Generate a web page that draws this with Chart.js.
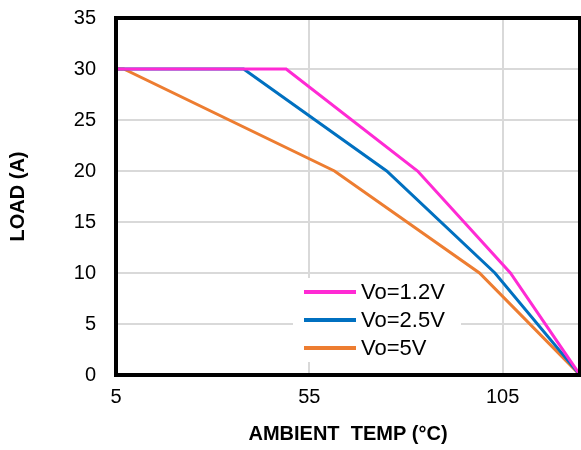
<!DOCTYPE html>
<html>
<head>
<meta charset="utf-8">
<script src="https://cdn.jsdelivr.net/npm/chart.js@4/dist/chart.umd.min.js"></script>
<style>
  body { margin: 0; background: #fff; }
  #wrap { width: 581px; height: 450px; }
</style>
</head>
<body>
<div id="wrap"><canvas id="derating" width="581" height="450"></canvas></div>
<script>
// derating curves, temp (C) vs load (A)
const temp12 = [5, 49, 83, 107, 125];
const load12 = [30, 30, 20, 10, 0];
const temp25 = [5, 38, 75, 103, 125];
const load25 = [30, 30, 20, 10, 0];
const temp50 = [5, 7, 61.5, 99, 125];
const load50 = [30, 30, 20, 10, 0];
const seriesNames = ["Vo=1.2V", "Vo=2.5V", "Vo=5V"];
const xTicks = [5, 55, 105];
const yTicks = [0, 5, 10, 15, 20, 25, 30, 35];

const colors = ["#FF2AD4", "#0070C0", "#ED7D31"];
const FONT = "Arial, 'Liberation Sans', sans-serif";

function pts(xs, ys) {
    return xs.map((x, i) => ({ x: x, y: ys[i] }));
}

const plotFrame = {
    id: "plotFrame",
    afterDatasetsDraw(chart) {
        const a = chart.chartArea;
        const c = chart.ctx;
        c.save();
        // legend box inside plot
        const lx = 293, ly = 278, lw = 168, lh = 84;
        c.fillStyle = "#fff";
        c.fillRect(lx, ly, lw, lh);
        c.font = "22px " + FONT;
        c.textBaseline = "middle";
        chart.data.datasets.forEach((ds, i) => {
            const y = 292 + i * 28;
            c.strokeStyle = ds.borderColor;
            c.lineWidth = 4;
            c.beginPath();
            c.moveTo(304, y);
            c.lineTo(356, y);
            c.stroke();
            c.fillStyle = "#000";
            c.fillText(ds.label, 361, y + 1);
        });
        // thick frame
        c.strokeStyle = "#000";
        c.lineWidth = 4;
        c.strokeRect(a.left, a.top, a.right - a.left, a.bottom - a.top);
        c.restore();
    }
};

new Chart(document.getElementById("derating"), {
    type: "line",
    data: {
        datasets: [
            { label: seriesNames[0], data: pts(temp12, load12) },
            { label: seriesNames[1], data: pts(temp25, load25) },
            { label: seriesNames[2], data: pts(temp50, load50) }
        ].map((d, i) => Object.assign(d, {
            borderColor: colors[i],
            backgroundColor: colors[i],
            borderWidth: 3,
            pointRadius: 0,
            tension: 0,
            fill: false
        }))
    },
    options: {
        responsive: false,
        animation: false,
        layout: { padding: { top: 18, right: 1, left: 0, bottom: 0 } },
        plugins: {
            legend: { display: false },
            tooltip: { enabled: false }
        },
        scales: {
            x: {
                type: "linear",
                min: 5,
                max: 125,
                afterBuildTicks: (s) => { s.ticks = xTicks.map(v => ({ value: v })); },
                afterFit: (s) => { s.height = 75; s.paddingLeft = 0; s.paddingRight = 0; },
                grid: { color: "#d9d9d9", lineWidth: 2, drawTicks: false },
                border: { display: false },
                ticks: { color: "#000", padding: 10, maxRotation: 0, font: { family: FONT, size: 20 } },
                title: {
                    display: true,
                    text: "AMBIENT  TEMP (\u00b0C)",
                    color: "#000",
                    padding: { top: 4 },
                    font: { family: FONT, size: 20, weight: "bold" }
                }
            },
            y: {
                type: "linear",
                min: 0,
                max: 35,
                afterBuildTicks: (s) => { s.ticks = yTicks.map(v => ({ value: v })); },
                afterFit: (s) => { s.width = 116; s.paddingTop = 0; s.paddingBottom = 0; },
                grid: { color: "#d9d9d9", lineWidth: 2, drawTicks: false },
                border: { display: false },
                ticks: { color: "#000", padding: 20, font: { family: FONT, size: 20 } },
                title: {
                    display: true,
                    text: "LOAD (A)",
                    color: "#000",
                    padding: { top: 6, bottom: 18 },
                    font: { family: FONT, size: 20, weight: "bold" }
                }
            }
        }
    },
    plugins: [plotFrame]
});
</script>
</body>
</html>
